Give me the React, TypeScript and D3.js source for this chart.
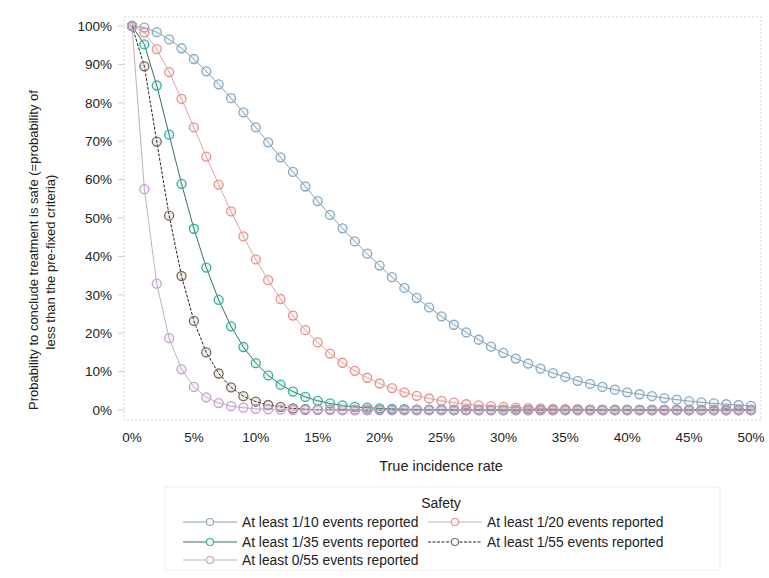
import * as d3 from 'd3';

const rates = d3.range(0, 51); // true incidence rate, %

const at1of10 = [100, 99.6, 98.4, 96.5, 94.2, 91.4, 88.2, 84.8, 81.2, 77.5, 73.6, 69.7, 65.8, 62.0, 58.2, 54.4, 50.8, 47.3, 43.9, 40.7, 37.6, 34.6, 31.8, 29.2, 26.7, 24.4, 22.2, 20.2, 18.3, 16.5, 14.9, 13.4, 12.1, 10.8, 9.6, 8.6, 7.6, 6.8, 6.0, 5.3, 4.6, 4.1, 3.6, 3.1, 2.7, 2.3, 2.0, 1.7, 1.5, 1.3, 1.1];
const at1of20 = [100, 98.3, 94.0, 88.0, 81.0, 73.6, 66.0, 58.7, 51.7, 45.2, 39.2, 33.8, 28.9, 24.6, 20.8, 17.6, 14.7, 12.3, 10.2, 8.4, 6.9, 5.7, 4.6, 3.7, 3.0, 2.4, 1.9, 1.5, 1.2, 1.0, 0.8, 0.6, 0.5, 0.4, 0.3, 0.2, 0.2, 0.1, 0.1, 0.1, 0.1, 0, 0, 0, 0, 0, 0, 0, 0, 0, 0];
const at1of35 = [100, 95.2, 84.5, 71.7, 58.9, 47.2, 37.1, 28.7, 21.8, 16.4, 12.2, 9.0, 6.6, 4.8, 3.4, 2.4, 1.7, 1.2, 0.8, 0.6, 0.4, 0.3, 0.2, 0.1, 0.1, 0.1, 0, 0, 0, 0, 0, 0, 0, 0, 0, 0, 0, 0, 0, 0, 0, 0, 0, 0, 0, 0, 0, 0, 0, 0, 0];
const at1of55 = [100, 89.5, 69.9, 50.6, 34.9, 23.2, 15.0, 9.5, 5.9, 3.6, 2.2, 1.3, 0.8, 0.4, 0.2, 0.1, 0.1, 0, 0, 0, 0, 0, 0, 0, 0, 0, 0, 0, 0, 0, 0, 0, 0, 0, 0, 0, 0, 0, 0, 0, 0, 0, 0, 0, 0, 0, 0, 0, 0, 0, 0];
const at0of55 = [100, 57.5, 32.9, 18.7, 10.6, 6.0, 3.3, 1.8, 1.0, 0.6, 0.3, 0.2, 0.1, 0, 0, 0, 0, 0, 0, 0, 0, 0, 0, 0, 0, 0, 0, 0, 0, 0, 0, 0, 0, 0, 0, 0, 0, 0, 0, 0, 0, 0, 0, 0, 0, 0, 0, 0, 0, 0, 0];

const yTicks = [0, 10, 20, 30, 40, 50, 60, 70, 80, 90, 100];
const xTicks = [0, 5, 10, 15, 20, 25, 30, 35, 40, 45, 50];

const series = [
  { label: 'At least 1/10 events reported', values: at1of10, line: '#8d9eac', dot: '#86a9c4', dash: '' },
  { label: 'At least 1/20 events reported', values: at1of20, line: '#d9a9a6', dot: '#e6928c', dash: '' },
  { label: 'At least 1/35 events reported', values: at1of35, line: '#3d6f69', dot: '#2fb3a0', dash: '' },
  { label: 'At least 1/55 events reported', values: at1of55, line: '#222222', dot: '#7b6b52', dash: '3,1.5' },
  { label: 'At least 0/55 events reported', values: at0of55, line: '#bfb0c6', dot: '#c79fd1', dash: '' },
];

const font = '"Liberation Sans", Arial, sans-serif';

export default function App() {
  const x = d3.scaleLinear().domain([0, 50]).range([132, 751]);
  const y = d3.scaleLinear().domain([0, 100]).range([410, 26]);
  const line = d3
    .line<number>()
    .x((_d, i) => x(rates[i]))
    .y((d) => y(d));

  const legendPos = [
    { lx: 183, ty: 522 },
    { lx: 428, ty: 522 },
    { lx: 183, ty: 542 },
    { lx: 428, ty: 542 },
    { lx: 183, ty: 560 },
  ];

  return (
    <svg width={769} height={578} style={{ position: 'absolute', left: 0, top: 0, background: '#fff' }} fontFamily={font}>
      <rect x={124} y={17} width={637} height={403} fill="none" stroke="#d4d4d4" strokeDasharray="2,2" />

      {yTicks.map((t) => (
        <g key={'y' + t}>
          <line x1={118} x2={124} y1={y(t)} y2={y(t)} stroke="#cfcfcf" />
          <text x={112} y={y(t)} dy="0.35em" textAnchor="end" fontSize={13.5} fill="#222">
            {t}%
          </text>
        </g>
      ))}
      {xTicks.map((t) => (
        <text key={'x' + t} x={x(t)} y={442} textAnchor="middle" fontSize={13.5} fill="#222">
          {t}%
        </text>
      ))}

      <text x={441} y={471} textAnchor="middle" fontSize={14.5} fill="#222">
        True incidence rate
      </text>
      <g transform="translate(38,250) rotate(-90)">
        <text x={0} y={0} textAnchor="middle" fontSize={13} fill="#222">
          Probability to conclude treatment is safe (=probability of
        </text>
        <text x={-12} y={17} textAnchor="middle" fontSize={13} fill="#222">
          less than the pre-fixed criteria)
        </text>
      </g>

      {series.map((s) => (
        <g key={s.label}>
          <path d={line(s.values) ?? ''} fill="none" stroke={s.line} strokeWidth={1} strokeDasharray={s.dash} />
          {s.values.map((v, i) => (
            <circle key={i} cx={x(rates[i])} cy={y(v)} r={4.5} fill={s.dot} fillOpacity={0.12} stroke={s.dot} strokeWidth={1.3} />
          ))}
        </g>
      ))}

      <rect x={165} y={487} width={555} height={83} fill="none" stroke="#efefef" />
      <text x={441} y={508} textAnchor="middle" fontSize={14} fill="#222">
        Safety
      </text>
      {series.map((s, i) => {
        const p = legendPos[i];
        return (
          <g key={'l' + s.label}>
            <line x1={p.lx} x2={p.lx + 54} y1={p.ty} y2={p.ty} stroke={s.line} strokeDasharray={s.dash} />
            <circle cx={p.lx + 27} cy={p.ty} r={3.5} fill="#fff" stroke={s.dot} strokeWidth={1.2} />
            <text x={p.lx + 59} y={p.ty} dy="0.35em" fontSize={13.8} fill="#222">
              {s.label}
            </text>
          </g>
        );
      })}
    </svg>
  );
}
